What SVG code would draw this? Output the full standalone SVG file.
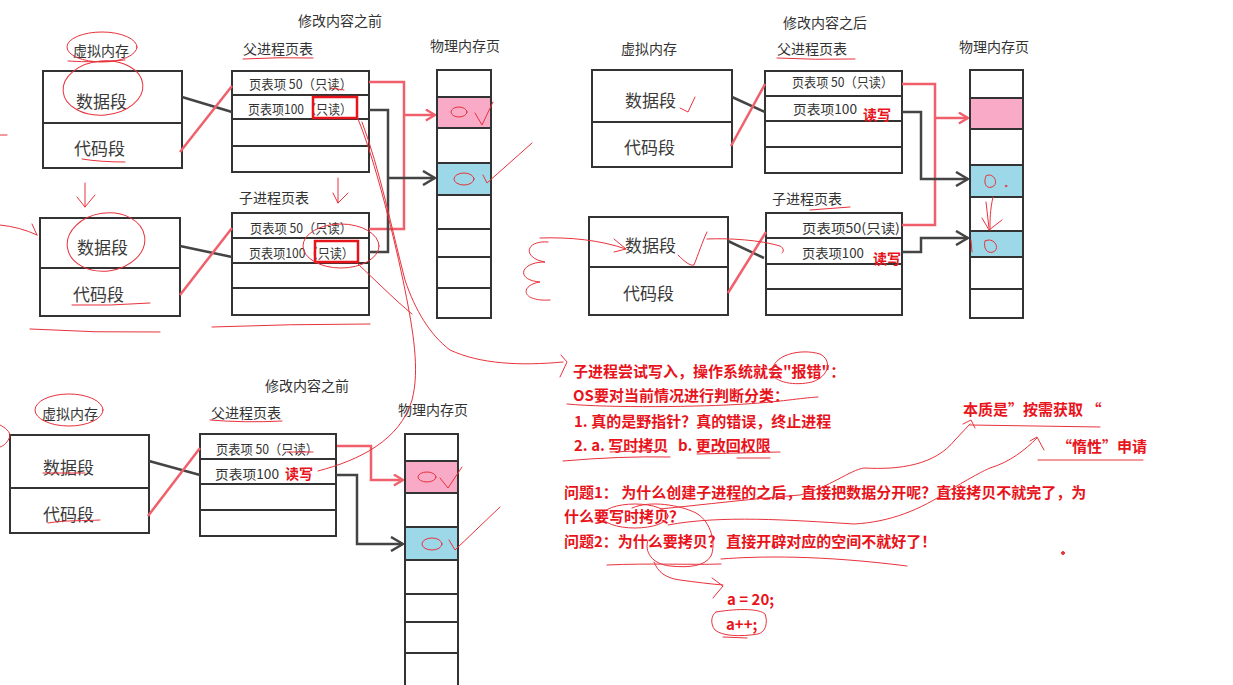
<svg xmlns="http://www.w3.org/2000/svg" width="1233" height="685" viewBox="0 0 1233 685">
<style>
text{font-family:"Noto Sans CJK SC","Noto Sans",sans-serif;dominant-baseline:central}
.t{font-size:14px;fill:#333}
.s{font-size:17px;fill:#3a3a3a}
.e{font-size:13px;fill:#333}
.rw{font-size:14px;fill:#e8141c;font-weight:bold}
.n{font-size:15px;fill:#e8141c;font-weight:bold}
.box{fill:#fff;stroke:#333;stroke-width:2}
.dv{stroke:#333;stroke-width:2}
.pk{fill:#f9aac6}
.bl{fill:#9dd8e8}
.cr{fill:none;stroke:#f0606c;stroke-width:2.5}
.ck{fill:none;stroke:#444;stroke-width:2.5}
.rb{fill:none;stroke:#e8141c;stroke-width:2.5}
.hw{fill:none;stroke:#e8323c;stroke-width:1;stroke-linecap:round;stroke-linejoin:round}
</style>
<defs>
<marker id="ar" viewBox="0 0 12 14" refX="11" refY="7" markerWidth="11" markerHeight="13" markerUnits="userSpaceOnUse" orient="auto"><path d="M1,1 L11,7 L1,13" fill="none" stroke="#f0606c" stroke-width="2.5"/></marker>
<marker id="ak" viewBox="0 0 14 16" refX="13" refY="8" markerWidth="14" markerHeight="16" markerUnits="userSpaceOnUse" orient="auto"><path d="M1,1 L13,8 L1,15" fill="none" stroke="#444" stroke-width="2.5"/></marker>
</defs>
<rect width="1233" height="685" fill="#fff"/>

<!-- ========== Top-left diagram ========== -->
<text class="t" x="298" y="20">修改内容之前</text>
<g id="tl-vm">
<text class="t" x="73" y="50">虚拟内存</text>
<rect class="box" x="43" y="71" width="139" height="97"/>
<line class="dv" x1="43" y1="123" x2="182" y2="123"/>
<text class="s" x="76" y="100">数据段</text>
<text class="s" x="74" y="147">代码段</text>
</g>
<g id="tl-parent-pt">
<text class="t" x="243" y="48">父进程页表</text>
<rect class="box" x="232" y="71" width="137" height="101"/>
<line class="dv" x1="232" y1="95" x2="369" y2="95"/>
<line class="dv" x1="232" y1="119" x2="369" y2="119"/>
<line class="dv" x1="232" y1="146" x2="369" y2="146"/>
<text class="e" x="249" y="83" textLength="103" lengthAdjust="spacingAndGlyphs">页表项 50（只读）</text>
<text class="e" x="248" y="108" textLength="104" lengthAdjust="spacingAndGlyphs">页表项100（只读）</text>
<rect class="rb" x="313" y="97" width="44" height="21"/>
</g>
<g id="tl-phys">
<text class="t" x="430" y="45">物理内存页</text>
<rect class="box" x="437" y="70" width="54" height="248"/>
<rect class="pk" x="438" y="97" width="52" height="31"/>
<rect class="bl" x="438" y="163" width="52" height="32"/>
<g class="dv"><line x1="437" y1="97" x2="491" y2="97"/><line x1="437" y1="128" x2="491" y2="128"/><line x1="437" y1="163" x2="491" y2="163"/><line x1="437" y1="195" x2="491" y2="195"/><line x1="437" y1="229" x2="491" y2="229"/><line x1="437" y1="257" x2="491" y2="257"/><line x1="437" y1="288" x2="491" y2="288"/></g>
</g>
<g id="tl-child-vm">
<rect class="box" x="40" y="218" width="140" height="98"/>
<line class="dv" x1="40" y1="268" x2="180" y2="268"/>
<text class="s" x="77" y="246">数据段</text>
<text class="s" x="73" y="293">代码段</text>
</g>
<g id="tl-child-pt">
<text class="t" x="239" y="197">子进程页表</text>
<rect class="box" x="232" y="213" width="137" height="102"/>
<line class="dv" x1="232" y1="238" x2="369" y2="238"/>
<line class="dv" x1="232" y1="263" x2="369" y2="263"/>
<line class="dv" x1="232" y1="288" x2="369" y2="288"/>
<text class="e" x="250" y="227" textLength="102" lengthAdjust="spacingAndGlyphs">页表项 50（只读）</text>
<text class="e" x="249" y="252" textLength="105" lengthAdjust="spacingAndGlyphs">页表项100（只读）</text>
<rect class="rb" x="315" y="241" width="43" height="21"/>
</g>

<!-- ========== Top-right diagram ========== -->
<text class="t" x="783" y="22">修改内容之后</text>
<g id="tr-vm">
<text class="t" x="621" y="48">虚拟内存</text>
<rect class="box" x="592" y="70" width="140" height="97"/>
<line class="dv" x1="592" y1="122" x2="732" y2="122"/>
<text class="s" x="625" y="99">数据段</text>
<text class="s" x="624" y="146">代码段</text>
</g>
<g id="tr-parent-pt">
<text class="t" x="777" y="48">父进程页表</text>
<rect class="box" x="765" y="71" width="137" height="102"/>
<line class="dv" x1="765" y1="96" x2="902" y2="96"/>
<line class="dv" x1="765" y1="121" x2="902" y2="121"/>
<line class="dv" x1="765" y1="147" x2="902" y2="147"/>
<text class="e" x="792" y="81" textLength="101" lengthAdjust="spacingAndGlyphs">页表项 50（只读）</text>
<text class="e" x="793" y="108" textLength="64" lengthAdjust="spacingAndGlyphs">页表项100</text>
<text class="rw" x="863" y="114">读写</text>
</g>
<g id="tr-phys">
<text class="t" x="959" y="46">物理内存页</text>
<rect class="box" x="970" y="70" width="53" height="248"/>
<rect class="pk" x="971" y="98" width="51" height="31"/>
<rect class="bl" x="971" y="165" width="51" height="32"/>
<rect class="bl" x="971" y="231" width="51" height="26"/>
<g class="dv"><line x1="970" y1="98" x2="1023" y2="98"/><line x1="970" y1="129" x2="1023" y2="129"/><line x1="970" y1="165" x2="1023" y2="165"/><line x1="970" y1="197" x2="1023" y2="197"/><line x1="970" y1="231" x2="1023" y2="231"/><line x1="970" y1="257" x2="1023" y2="257"/><line x1="970" y1="289" x2="1023" y2="289"/></g>
</g>
<g id="tr-child-vm">
<rect class="box" x="589" y="217" width="139" height="98"/>
<line class="dv" x1="589" y1="267" x2="728" y2="267"/>
<text class="s" x="625" y="244">数据段</text>
<text class="s" x="623" y="292">代码段</text>
</g>
<g id="tr-child-pt">
<text class="t" x="772" y="198">子进程页表</text>
<rect class="box" x="766" y="213" width="136" height="102"/>
<line class="dv" x1="766" y1="238" x2="902" y2="238"/>
<line class="dv" x1="766" y1="264" x2="902" y2="264"/>
<line class="dv" x1="766" y1="289" x2="902" y2="289"/>
<text class="e" x="802" y="227" textLength="98" lengthAdjust="spacingAndGlyphs">页表项50(只读)</text>
<text class="e" x="802" y="252" textLength="62" lengthAdjust="spacingAndGlyphs">页表项100</text>
<text class="rw" x="873" y="258">读写</text>
</g>

<!-- ========== Bottom-left diagram ========== -->
<text class="t" x="265" y="385">修改内容之前</text>
<g id="bl-vm">
<text class="t" x="42" y="413">虚拟内存</text>
<rect class="box" x="10" y="435" width="139" height="98"/>
<line class="dv" x1="10" y1="488" x2="149" y2="488"/>
<text class="s" x="43" y="466">数据段</text>
<text class="s" x="43" y="513">代码段</text>
</g>
<g id="bl-parent-pt">
<text class="t" x="211" y="412">父进程页表</text>
<rect class="box" x="200" y="434" width="136" height="102"/>
<line class="dv" x1="200" y1="459" x2="336" y2="459"/>
<line class="dv" x1="200" y1="484" x2="336" y2="484"/>
<line class="dv" x1="200" y1="510" x2="336" y2="510"/>
<text class="e" x="216" y="448" textLength="102" lengthAdjust="spacingAndGlyphs">页表项 50（只读）</text>
<text class="e" x="215" y="473" textLength="64" lengthAdjust="spacingAndGlyphs">页表项100</text>
<text class="rw" x="285" y="473">读写</text>
</g>
<g id="bl-phys">
<text class="t" x="398" y="409">物理内存页</text>
<rect class="box" x="405" y="434" width="53" height="262"/>
<rect class="pk" x="406" y="461" width="51" height="32"/>
<rect class="bl" x="406" y="527" width="51" height="33"/>
<g class="dv"><line x1="405" y1="461" x2="458" y2="461"/><line x1="405" y1="493" x2="458" y2="493"/><line x1="405" y1="527" x2="458" y2="527"/><line x1="405" y1="560" x2="458" y2="560"/><line x1="405" y1="594" x2="458" y2="594"/><line x1="405" y1="622" x2="458" y2="622"/><line x1="405" y1="653" x2="458" y2="653"/></g>
</g>

<!-- ========== Connectors ========== -->
<g id="connectors">
<line class="ck" x1="182" y1="97" x2="232" y2="112"/>
<line class="cr" x1="180" y1="152" x2="232" y2="86"/>
<path class="cr" d="M369,82 H404 V229 H369"/>
<path class="cr" d="M404,115 H435" marker-end="url(#ar)"/>
<path class="ck" d="M369,110 H388 V252 H369"/>
<path class="ck" d="M388,178 H435" marker-end="url(#ak)"/>
<line class="ck" x1="180" y1="246" x2="232" y2="257"/>
<line class="cr" x1="180" y1="295" x2="232" y2="228"/>

<line class="ck" x1="732" y1="97" x2="765" y2="112"/>
<line class="cr" x1="731" y1="146" x2="765" y2="84"/>
<path class="cr" d="M902,84 H935 V225 H902"/>
<path class="cr" d="M935,118 H968" marker-end="url(#ar)"/>
<path class="ck" d="M902,112 H921 V179 H968" marker-end="url(#ak)"/>
<path class="ck" d="M902,252 H921 V238 H968" marker-end="url(#ak)"/>
<line class="ck" x1="728" y1="241" x2="764" y2="258"/>
<line class="cr" x1="728" y1="293" x2="766" y2="232"/>

<line class="ck" x1="149" y1="461" x2="200" y2="475"/>
<line class="cr" x1="148" y1="516" x2="200" y2="448"/>
<path class="cr" d="M337,446 H371 V480 H403" marker-end="url(#ar)"/>
<path class="ck" d="M336,475 H357 V544 H403" marker-end="url(#ak)"/>
</g>

<!-- ========== Notes ========== -->
<g id="notes">
<text class="n" x="573" y="370">子进程尝试写入，操作系统就会"报错"：</text>
<text class="n" x="573" y="394">OS要对当前情况进行判断分类：</text>
<text class="n" x="574" y="420">1. 真的是野指针？真的错误，终止进程</text>
<text class="n" x="574" y="444">2. a. 写时拷贝</text>
<text class="n" x="678" y="444">b. 更改回权限</text>
<text class="n" x="963" y="408">本质是”按需获取 “</text>
<text class="n" x="1057" y="445">“惰性”申请</text>
<text class="n" x="564" y="491">问题1： 为什么创建子进程的之后，直接把数据分开呢？直接拷贝不就完了，为</text>
<text class="n" x="564" y="515">什么要写时拷贝？</text>
<text class="n" x="564" y="540">问题2：为什么要拷贝？ 直接开辟对应的空间不就好了！</text>
<text class="n" x="727" y="598">a = 20;</text>
<text class="n" x="726" y="623">a++;</text>
</g>

<!-- ========== Handwritten annotations ========== -->
<g id="annotations" class="hw">
<ellipse cx="102" cy="47" rx="35" ry="15"/>
<path d="M68,61 Q95,63 125,60"/>
<ellipse cx="103" cy="88" rx="40" ry="27" transform="rotate(-5 103 88)"/>
<path d="M82,159 Q100,162 125,162"/>
<path d="M243,59 Q280,57 313,58"/>
<path d="M330,88 L344,90"/>
<path d="M0,135 L7,135"/>
<path d="M85,183 L85,207 M77,197 L85,207 L95,195"/>
<ellipse cx="106" cy="242" rx="39" ry="29" transform="rotate(-8 106 242)"/>
<path d="M0,225 Q20,227 37,235 M32,224 L37,235"/>
<path d="M72,305 Q110,306 150,303"/>
<path d="M30,329 Q95,333 160,332"/>
<path d="M212,327 Q290,324 370,324"/>
<path d="M338,178 L338,203 M333,193 L338,203 L348,193"/>
<ellipse cx="341" cy="246" rx="38" ry="22"/>
<ellipse cx="459" cy="112" rx="8" ry="5"/>
<path d="M475,113 L482,125 L493,102"/>
<ellipse cx="464" cy="179" rx="10" ry="6"/>
<path d="M483,175 L487,183 L532,143"/>
<path d="M358,119 C375,160 395,240 405,290 C413,330 420,370 412,400 C400,440 360,460 318,471"/>
<path d="M362,122 C380,170 392,230 405,280 C415,310 430,335 450,350 C480,364 520,366 563,362"/>
<path d="M358,264 C375,280 395,300 412,314"/>
<path d="M561,355 L567,362 L560,377"/>
<path d="M548,242 C525,240 522,258 545,262 C520,262 515,280 540,282 C520,285 520,302 550,300"/>

<path d="M680,108 L688,112 L695,97"/>
<path d="M777,58 Q815,60 855,59"/>
<path d="M810,210 L850,207"/>
<path d="M540,238 C570,237 600,240 626,249 M614,239 L626,249 L614,252"/>
<path d="M678,255 C685,262 690,266 694,265 C698,255 703,240 707,232"/>
<path d="M707,239 C730,238 760,240 780,246 C784,248 784,252 782,253"/>
<path d="M986,176 C983,183 986,189 992,187 C998,185 996,176 990,175 Z"/>
<circle cx="1006" cy="186" r="0.8"/>
<path d="M993,197 C990,210 990,220 990,230 M982,218 L989,230 L1002,220 M986,202 L989,228"/>
<path d="M985,241 C983,248 987,254 993,252 C999,250 997,241 990,240 Z"/>
<path d="M971,240 L972,252"/>

<ellipse cx="69" cy="410" rx="34" ry="16"/>
<path d="M0,425 C6,428 10,432 10,436 C8,442 4,446 0,447"/>
<path d="M43,473 L85,473"/>
<path d="M48,523 C65,520 85,521 100,520"/>
<path d="M210,420 Q245,423 282,421"/>
<path d="M287,452 L313,452"/>
<ellipse cx="427" cy="477" rx="9" ry="5"/>
<path d="M440,478 L448,488 L462,467"/>
<ellipse cx="432" cy="544" rx="10" ry="6"/>
<path d="M449,540 L455,550 L500,507"/>

<path d="M772,372 C772,355 800,348 820,354 C832,360 830,376 812,382 C795,386 775,383 770,372"/>
<path d="M567,404 C610,408 700,407 745,404 C780,402 800,398 818,397"/>
<path d="M563,461 Q620,456 670,457 M610,452 L667,450 M697,454 L780,452 M737,458 L770,458"/>
<ellipse cx="635" cy="516" rx="33" ry="12"/>
<path d="M660,509 C700,505 760,498 800,495 C830,487 850,470 864,468 C900,470 935,465 955,440 L970,424 M963,424 L971,420 L975,428"/>
<path d="M668,525 C720,515 790,520 854,524 C890,522 920,510 950,490 C970,478 985,470 990,468 C1010,462 1025,450 1037,438 M1030,441 L1037,437 L1044,450"/>
<path d="M632,508 C650,500 680,505 696,513 C712,522 716,545 711,556 C705,566 690,568 670,566 C652,564 644,552 648,540"/>
<path d="M654,562 C658,572 665,578 680,580 C695,582 710,584 723,585 M712,578 L723,586 L713,598"/>
<path d="M607,565 C650,563 690,565 721,564 M721,559 C760,556 820,555 907,566"/>
<circle cx="1063" cy="553" r="1.5" fill="#e8323c"/>
<path d="M970,425 L1100,427"/>
<path d="M1038,460 L1143,460"/>
<path d="M716,612 C740,608 760,609 765,614 C768,622 766,632 758,634 C740,637 722,636 715,630 C710,624 711,615 716,612"/>
<path d="M723,637 L747,638"/>
</g>
</svg>
